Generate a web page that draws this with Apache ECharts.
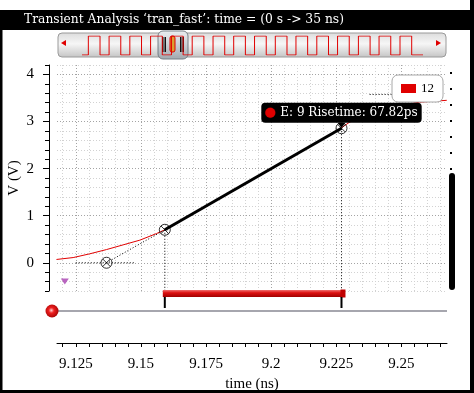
<!DOCTYPE html>
<html><head><meta charset="utf-8">
<script src="https://cdn.jsdelivr.net/npm/echarts@6/dist/echarts.min.js"></script>
<style>html,body{margin:0;padding:0;background:#fff}#c{width:474px;height:393px}</style>
</head><body><div id="c"></div>
<script>
// ---- data ----
const signalName = '12';
const curveT = [9.1176, 9.1240, 9.1304, 9.1368, 9.1432, 9.1496, 9.1560, 9.1592, 9.1726, 9.1918, 9.2110, 9.2271, 9.2302, 9.2417, 9.2493, 9.2570, 9.2674];
const curveV = [0.07, 0.11, 0.19, 0.28, 0.38, 0.48, 0.62, 0.70, 1.12, 1.73, 2.34, 2.87, 2.99, 3.22, 3.34, 3.41, 3.45];
const riseT = [9.15918, 9.22700];     // 10% and 90% crossing times (ns)
const riseV = [0.70, 2.857];          // voltages at those crossings
const baseT = 9.1368, baseV = 0;      // low level marker
const baseLineT = [9.125, 9.1476];    // dotted low-level line
const topLineT = [9.2378, 9.2463], topV = 3.574; // dotted high-level line
const flagT = 9.1208, flagV = -0.40;  // purple marker
const xTickLabels = [9.125, 9.15, 9.175, 9.2, 9.225, 9.25];
const xMinorTicks = [9.120, 9.125, 9.130, 9.135, 9.140, 9.145, 9.150, 9.155, 9.160, 9.165, 9.170, 9.175, 9.180, 9.185, 9.190, 9.195, 9.200, 9.205, 9.210, 9.215, 9.220, 9.225, 9.230, 9.235, 9.240, 9.245, 9.250, 9.255, 9.260, 9.265];
const yTickLabels = [0, 1, 2, 3, 4];
const clockRise = [0.65, 2.78, 4.91, 7.04, 9.18, 11.31, 13.45, 15.57, 17.71, 19.84, 21.96, 24.10, 26.23, 28.37, 30.49, 32.64];
const clockFall = [1.85, 3.98, 6.11, 8.24, 10.38, 12.51, 14.65, 16.77, 18.91, 21.04, 23.16, 25.30, 27.43, 29.57, 31.69, 33.84];
const simEnd = 35;

const xMin = 9.1178, xMax = 9.2675, yMin = -0.6, yMax = 4.2;
const serif = 'Liberation Serif';
const wideSerif = 'DejaVu Serif';
const minorC = '#d2d2d2', majorC = '#a4a4a4';

const curve = curveT.map((t, i) => [t, curveV[i]]);
const clock = [[0, 0]];
clockRise.forEach((r, i) => { clock.push([r, 0], [r, 1], [clockFall[i], 1], [clockFall[i], 0]); });
clock.push([simEnd, 0]);
const riseps = ((riseT[1] - riseT[0]) * 1000).toFixed(2);

const dotted = (data) => ({
  type: 'line', data, showSymbol: false, symbol: 'none', silent: true, z: 3,
  lineStyle: { color: '#000', width: 1, type: [1, 2] }
});
const xsym = 'path://M0,5A5,5 0 1,1 10,5A5,5 0 1,1 0,5Z M1.6,1.6L8.4,8.4 M8.4,1.6L1.6,8.4';

const chart = echarts.init(document.getElementById('c'), null, { renderer: 'canvas' });
chart.setOption({
  animation: false,
  backgroundColor: '#fff',
  grid: [
    { left: 57, top: 65, width: 390, height: 226, containLabel: false, outerBoundsMode: 'none' },
    { left: 82, top: 36, width: 341, height: 19, containLabel: false, outerBoundsMode: 'none' }
  ],
  legend: {
    data: [signalName], left: 392, top: 75, itemWidth: 15, itemHeight: 9, icon: 'rect',
    padding: [7, 9, 7, 9], borderColor: '#a8a8a8', borderWidth: 1, borderRadius: 6,
    backgroundColor: '#fff', selectedMode: false,
    textStyle: { fontFamily: serif, fontSize: 13, color: '#000' }
  },
  xAxis: [
    { gridIndex: 0, type: 'value', min: xMin, max: xMax, position: 'bottom', offset: 52,
      axisLine: { onZero: false, lineStyle: { color: '#000', width: 1 } },
      axisTick: { customValues: xMinorTicks, length: 4, lineStyle: { color: '#000' } },
      axisLabel: { customValues: xTickLabels, margin: 14, fontFamily: serif, fontSize: 15, color: '#000',
        formatter: v => String(+(+v).toFixed(4)) },
      splitLine: { show: true, lineStyle: { color: [minorC, majorC, minorC, minorC, minorC], type: [1, 2] } },
      name: 'time (ns)', nameLocation: 'middle', nameGap: 27,
      nameTextStyle: { fontFamily: serif, fontSize: 15, color: '#000' } },
    { gridIndex: 1, type: 'value', min: 0, max: simEnd, show: false }
  ],
  yAxis: [
    { gridIndex: 0, type: 'value', min: yMin, max: yMax, interval: 0.2, offset: 8, position: 'left',
      axisLine: { show: true, onZero: false, lineStyle: { color: '#000', width: 1 } },
      axisTick: { show: true, length: 4, lineStyle: { color: '#000' } },
      axisLabel: { show: false },
      splitLine: { show: true, lineStyle: { color: [minorC, minorC, minorC, majorC, minorC], type: [1, 2] } },
      name: 'V (V)', nameLocation: 'middle', nameGap: 27, nameRotate: 90,
      nameTextStyle: { fontFamily: serif, fontSize: 15, color: '#000' } },
    { gridIndex: 0, type: 'value', min: yMin, max: yMax, offset: 8, position: 'left',
      axisLine: { show: false, onZero: false },
      axisTick: { show: true, customValues: yTickLabels, length: 6, lineStyle: { color: '#000' } },
      axisLabel: { customValues: yTickLabels, margin: 15, fontFamily: serif, fontSize: 15, color: '#000' },
      splitLine: { show: false } },
    { gridIndex: 1, type: 'value', min: 0, max: 1, show: false }
  ],
  series: [
    { name: 'clock', type: 'line', xAxisIndex: 1, yAxisIndex: 2, data: clock, showSymbol: false,
      symbol: 'none', lineStyle: { color: '#e00000', width: 1 }, z: 2, silent: true },
    { name: signalName, type: 'line', data: curve, showSymbol: false, symbol: 'none',
      lineStyle: { color: '#e00000', width: 1 }, itemStyle: { color: '#e00000' }, z: 3 },
    dotted([[baseLineT[0], baseV], [baseLineT[1], baseV]]),
    dotted([[baseT, baseV], [riseT[0], riseV[0]]]),
    dotted([[riseT[0], riseV[0]], [riseT[0], yMin]]),
    dotted([[riseT[1], riseV[1]], [riseT[1], yMin]]),
    dotted([[topLineT[0], topV], [topLineT[1], topV]]),
    { name: 'rise', type: 'line', data: [[riseT[0], riseV[0]], [riseT[1], riseV[1]]], showSymbol: false,
      symbol: 'none', lineStyle: { color: '#000', width: 3 }, z: 4,
      markPoint: {
        symbol: 'path://M0,0L10,0L5,6Z', symbolSize: [8, 5], symbolOffset: [0, -3],
        itemStyle: { color: '#000' },
        data: [{ coord: [riseT[1], riseV[1]] }],
        label: { show: true, position: 'top', distance: 0,
          formatter: '{d| }{t|E: 9 Risetime: ' + riseps + 'ps}',
          backgroundColor: '#000', borderRadius: 4, padding: [4, 4, 4, 4],
          rich: {
            d: { width: 10, height: 10, backgroundColor: '#e00000', borderRadius: 5, borderColor: '#400', borderWidth: 0.5 },
            t: { color: '#fff', fontFamily: wideSerif, fontSize: 12, padding: [0, 0, 0, 5] }
          } }
      } },
    { type: 'scatter', data: [[baseT, baseV], [riseT[0], riseV[0]], [riseT[1], riseV[1]]],
      symbol: xsym, symbolSize: 11, z: 5,
      itemStyle: { color: 'rgba(0,0,0,0)', borderColor: '#000', borderWidth: 1 } },
    { type: 'scatter', data: [[flagT, flagV]], symbol: 'triangle', symbolRotate: 180,
      symbolSize: [8, 6], itemStyle: { color: '#a83fb0' }, z: 5 },
    { type: 'custom', data: [[riseT[0], riseT[1]]], encode: { x: [0, 1] }, z: 6, clip: false,
      renderItem: (params, api) => {
        const p1 = api.coord([api.value(0), yMin]);
        const p2 = api.coord([api.value(1), yMin]);
        const y = p1[1] - 1;
        return { type: 'group', children: [
          { type: 'rect', shape: { x: p1[0] - 2, y: y, width: p2[0] - p1[0] + 4, height: 7 },
            style: { fill: new echarts.graphic.LinearGradient(0, 0, 0, 1, [
              { offset: 0, color: '#f07070' }, { offset: 0.4, color: '#dd1010' }, { offset: 1, color: '#a00000' }]) } },
          { type: 'rect', shape: { x: p2[0] - 1, y: y - 0.5, width: 5, height: 8 }, style: { fill: '#c00000' } },
          { type: 'rect', shape: { x: p1[0] - 1, y: y + 7, width: 2, height: 11 }, style: { fill: '#000' } },
          { type: 'rect', shape: { x: p2[0] - 1, y: y + 7, width: 2, height: 11 }, style: { fill: '#000' } }
        ] };
      } }
  ],
  graphic: [
    { type: 'rect', shape: { x: 0, y: 10, width: 474, height: 20 }, style: { fill: '#000' }, z: 0 },
    { type: 'text', x: 24, y: 20, style: { text: 'Transient Analysis ‘tran_fast’: time = (0 s -> 35 ns)',
      fill: '#fff', font: '12.3px "DejaVu Serif"', verticalAlign: 'middle' }, z: 1 },
    { type: 'rect', shape: { x: 0, y: 10, width: 2.5, height: 383 }, style: { fill: '#000' } },
    { type: 'rect', shape: { x: 470, y: 0, width: 4, height: 393 }, style: { fill: '#000' } },
    { type: 'rect', shape: { x: 0, y: 390, width: 474, height: 3 }, style: { fill: '#000' } },
    { type: 'rect', shape: { x: 58, y: 33, width: 388, height: 24, r: 4 }, z: 0,
      style: { fill: new echarts.graphic.LinearGradient(0, 0, 0, 1, [
        { offset: 0, color: '#dcdcdc' }, { offset: 0.45, color: '#f6f6f6' }, { offset: 1, color: '#c4c4c4' }]),
        stroke: '#9a9a9a', lineWidth: 1 } },
    { type: 'polygon', shape: { points: [[61, 43], [66, 40], [66, 46]] }, style: { fill: '#e00000' }, z: 1 },
    { type: 'polygon', shape: { points: [[441, 43], [436, 40], [436, 46]] }, style: { fill: '#e00000' }, z: 1 },
    { type: 'group', z: 10, children: [
      { type: 'rect', shape: { x: 158, y: 31, width: 30, height: 28, r: 5 },
        style: { fill: new echarts.graphic.LinearGradient(0, 0, 0, 1, [
          { offset: 0, color: '#eef1f4' }, { offset: 1, color: '#9ea6ae' }]), stroke: '#6e767e', lineWidth: 1, opacity: 0.92 } },
      { type: 'rect', shape: { x: 162, y: 37, width: 1.5, height: 15 }, style: { fill: '#111' } },
      { type: 'rect', shape: { x: 164.5, y: 37, width: 1.5, height: 15 }, style: { fill: '#111' } },
      { type: 'rect', shape: { x: 180, y: 37, width: 1.5, height: 15 }, style: { fill: '#111' } },
      { type: 'rect', shape: { x: 182.5, y: 37, width: 1.5, height: 15 }, style: { fill: '#111' } },
      { type: 'rect', shape: { x: 170, y: 36, width: 5, height: 16, r: 2 }, style: { fill: '#d9a030', stroke: '#e00000', lineWidth: 1 } }
    ] },
    ...[72, 88, 104, 120, 136, 152, 168].map(y => ({ type: 'rect', shape: { x: 450, y: y, width: 2, height: 2 }, style: { fill: '#000' } })),
    { type: 'rect', shape: { x: 449, y: 173, width: 6, height: 117, r: 3 }, style: { fill: '#000' } },
    { type: 'rect', shape: { x: 56, y: 310, width: 391, height: 2 }, style: { fill: '#a6a6ae' } },
    { type: 'circle', shape: { cx: 52, cy: 311, r: 6.5 }, z: 2,
      style: { fill: new echarts.graphic.RadialGradient(0.45, 0.45, 0.6, [
        { offset: 0, color: '#ffd0d0' }, { offset: 0.35, color: '#ee2020' }, { offset: 1, color: '#a00000' }]) } }
  ]
});
</script></body></html>
